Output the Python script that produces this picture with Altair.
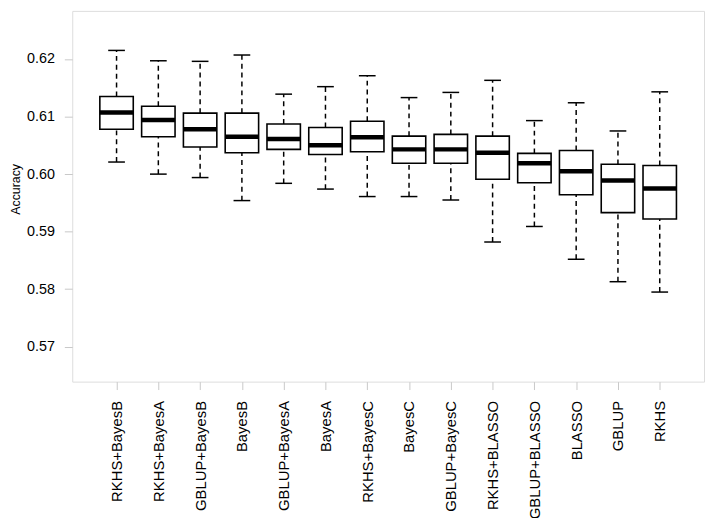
import json
import altair as alt
import pandas as pd

models = ["RKHS+BayesB", "RKHS+BayesA", "GBLUP+BayesB", "BayesB", "GBLUP+BayesA",
          "BayesA", "RKHS+BayesC", "BayesC", "GBLUP+BayesC", "RKHS+BLASSO",
          "GBLUP+BLASSO", "BLASSO", "GBLUP", "RKHS"]
upper = [0.6215, 0.6197, 0.6196, 0.6207, 0.6139, 0.6152, 0.6171, 0.6133, 0.6142, 0.6163, 0.6093, 0.6124, 0.6075, 0.6143]
q3 = [0.6135, 0.6118, 0.6106, 0.6106, 0.6087, 0.6081, 0.6092, 0.6066, 0.6069, 0.6066, 0.6036, 0.6041, 0.6017, 0.6015]
median = [0.6107, 0.6094, 0.6078, 0.6065, 0.6061, 0.6050, 0.6064, 0.6043, 0.6043, 0.6037, 0.6019, 0.6005, 0.5989, 0.5975]
q1 = [0.6078, 0.6065, 0.6047, 0.6037, 0.6043, 0.6034, 0.6039, 0.6019, 0.6019, 0.5991, 0.5985, 0.5964, 0.5933, 0.5922]
lower = [0.6021, 0.6000, 0.5994, 0.5954, 0.5984, 0.5974, 0.5961, 0.5961, 0.5955, 0.5882, 0.5909, 0.5852, 0.5813, 0.5795]
y_ticks = [0.57, 0.58, 0.59, 0.60, 0.61, 0.62]

df = pd.DataFrame({
    "model": models,
    "pos": list(range(1, len(models) + 1)),
    "upper": upper, "q3": q3, "median": median, "q1": q1, "lower": lower,
})

FONT = "Liberation Sans"
label_expr = json.dumps(models) + "[datum.value - 1]"

xscale = alt.Scale(domain=[-0.06, 15.06], nice=False, zero=False)
yscale = alt.Scale(domain=[0.56393, 0.62837], nice=False, zero=False)

xaxis = alt.Axis(values=list(range(1, len(models) + 1)), labelExpr=label_expr,
                 labelAngle=270, labelAlign="right", labelBaseline="middle",
                 labelFont=FONT, labelFontSize=15, labelColor="#000000",
                 labelPadding=11, tickColor="#c8c8c8", tickSize=8, domain=False,
                 grid=False, title=None, labelOverlap=False)
yaxis = alt.Axis(values=y_ticks, format=".2f", labelFont=FONT, labelFontSize=14.5,
                 labelColor="#000000", labelPadding=10, tickColor="#c8c8c8", tickSize=8,
                 domain=False, grid=False, title="Accuracy", titleFont=FONT,
                 titleFontSize=12.5, titleFontWeight="normal", titleColor="#000000",
                 titleAngle=270, titleX=-57, titleY=180, titleAlign="center",
                 titleBaseline="middle")

base = alt.Chart(df).transform_calculate(
    x_lo="datum.pos - 0.4", x_hi="datum.pos + 0.4",
    c_lo="datum.pos - 0.2", c_hi="datum.pos + 0.2",
)

whisk_up = base.mark_rule(color="#000000", strokeWidth=1.5, strokeDash=[5, 4]).encode(
    x=alt.X("pos:Q", scale=xscale, axis=xaxis),
    y=alt.Y("q3:Q", scale=yscale, axis=yaxis),
    y2="upper:Q",
)
whisk_lo = base.mark_rule(color="#000000", strokeWidth=1.5, strokeDash=[5, 4]).encode(
    x=alt.X("pos:Q", scale=xscale), y=alt.Y("lower:Q", scale=yscale), y2="q1:Q",
)
cap_up = base.mark_rule(color="#000000", strokeWidth=1.5).encode(
    x=alt.X("c_lo:Q", scale=xscale), x2="c_hi:Q", y=alt.Y("upper:Q", scale=yscale),
)
cap_lo = base.mark_rule(color="#000000", strokeWidth=1.5).encode(
    x=alt.X("c_lo:Q", scale=xscale), x2="c_hi:Q", y=alt.Y("lower:Q", scale=yscale),
)
box = base.mark_rect(fill="#ffffff", stroke="#000000", strokeWidth=1.6).encode(
    x=alt.X("x_lo:Q", scale=xscale), x2="x_hi:Q",
    y=alt.Y("q1:Q", scale=yscale), y2="q3:Q",
)
med = base.mark_rule(color="#000000", strokeWidth=4.5).encode(
    x=alt.X("x_lo:Q", scale=xscale), x2="x_hi:Q", y=alt.Y("median:Q", scale=yscale),
)

chart = alt.layer(whisk_up, whisk_lo, cap_up, cap_lo, box, med).properties(
    width=639, height=375,
    autosize=alt.AutoSizeParams(type="none"),
    padding={"left": 65, "top": 0, "right": 2, "bottom": 135},
).configure_view(stroke="#c8c8c8", strokeWidth=1.2).configure(background="#ffffff")

chart.save("out.html", embed_options={"renderer": "svg", "actions": False})
